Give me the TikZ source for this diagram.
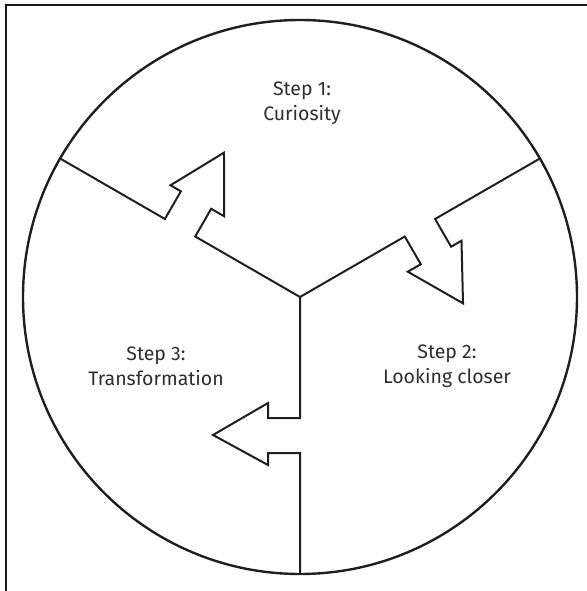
\documentclass[tikz,border=0pt]{standalone}
\usepackage{fontspec}
\setmainfont{Fira Sans}
\usepackage{tikz}
\usetikzlibrary{positioning}

\begin{document}
\begin{tikzpicture}[
  x=1pt, y=1pt,
  frame/.style={draw=black!90, line width=2.6pt},
  rim/.style={draw=black!88, line width=2.4pt},
  divider/.style={draw=black!88, line width=2pt, line join=miter},
  label/.style={align=center, text=black!82, font=\fontsize{19.5}{25}\selectfont},
]
\useasboundingbox (-300,-294) rectangle (286,297);

%% frame and circle
\draw[frame] (-294,-295) rectangle (288,292);
\coordinate (hub) at (0,0);
\draw[rim] (hub) circle (277);

%% three dividers with arrow notches
\foreach \a in {270,150,30}{
  \draw[divider, rotate=\a] (hub) -- (121,0) -- (121,-32) -- (106,-32)
    -- (138,-87) -- (168,-32) -- (156,-32) -- (156,0) -- (277,0);
}

%% labels
\node[label] (step1) at (2,194)    {Step 1:\\Curiosity};
\node[label] (step2) at (147,-69)  {Step 2:\\Looking closer};
\node[label] (step3) at (-144,-69) {Step 3:\\Transformation};

\end{tikzpicture}
\end{document}
